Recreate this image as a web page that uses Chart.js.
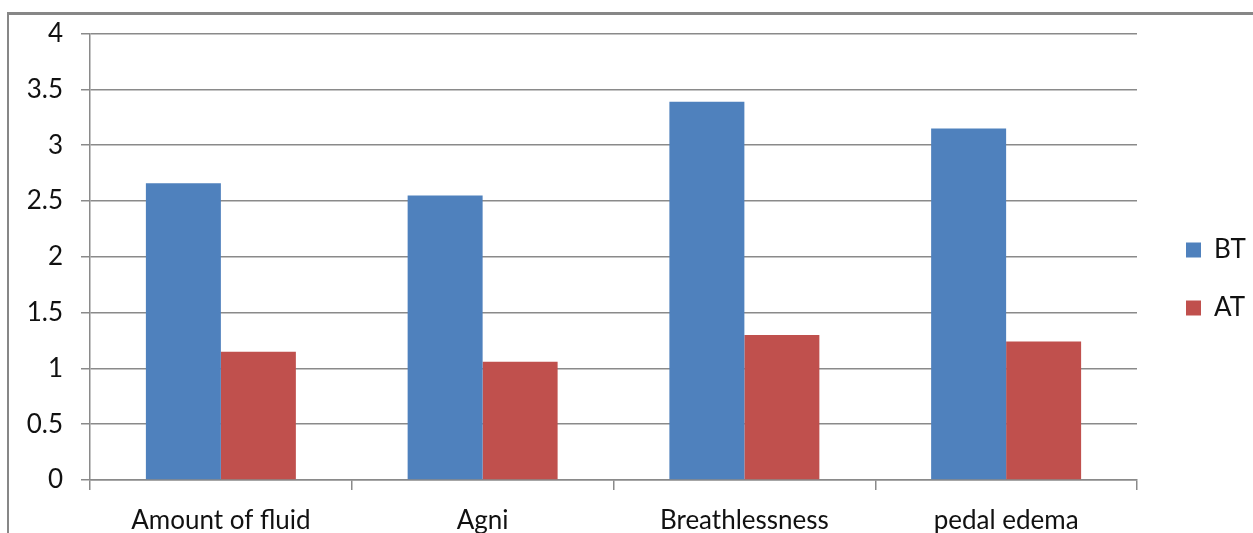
<!DOCTYPE html>
<html lang="en">
<head>
    <meta charset="UTF-8">
    <title>BT vs AT</title>
    <style>
        html, body {
            margin: 0;
            padding: 0;
            background: #fff;
            overflow: hidden;
        }

        .frame {
            position: absolute;
            left: 7px;
            top: 12px;
            width: 1400px;
            height: 700px;
            border-left: 2px solid #878787;
            border-top: 3px solid #878787;
        }

        .chart-container {
            position: absolute;
            left: 0;
            top: 0;
            width: 1253px;
            height: 533px;
        }
    </style>
</head>
<body>
    <div class="frame"></div>
    <div class="chart-container">
        <canvas id="barChart"></canvas>
    </div>

    <script src="https://cdn.jsdelivr.net/npm/chart.js"></script>
    <script>
        // chart data
        const categories = ['Amount of fluid', 'Agni', 'Breathlessness', 'pedal edema'];
        const btValues = [2.66, 2.55, 3.39, 3.15];
        const atValues = [1.15, 1.06, 1.30, 1.24];
        const yTickLabels = ['0', '0.5', '1', '1.5', '2', '2.5', '3', '3.5', '4'];

        const font = { family: 'Lato, "Liberation Sans", sans-serif', size: 26 };
        const gridColor = '#8a8a8a';

        // legend: fixed width on the right, items placed like the original
        const legendPlacer = {
            id: 'legendPlacer',
            beforeInit(chart) {
                const fit = chart.legend.fit;
                chart.legend.fit = function () {
                    fit.call(this);
                    this.width = 116;
                };
            },
            afterLayout(chart) {
                const lg = chart.legend;
                lg.left += 17;
                lg.top = 205;
            }
        };

        const ctx = document.getElementById('barChart').getContext('2d');

        new Chart(ctx, {
            type: 'bar',
            data: {
                labels: categories,
                datasets: [{
                    label: 'BT',
                    data: btValues,
                    backgroundColor: '#4F81BD'
                }, {
                    label: 'AT',
                    data: atValues,
                    backgroundColor: '#C0504D'
                }]
            },
            options: {
                responsive: true,
                maintainAspectRatio: false,
                animation: false,
                layout: {
                    padding: { top: 32, left: 0, right: 0, bottom: 0 }
                },
                datasets: {
                    bar: {
                        categoryPercentage: 0.573,
                        barPercentage: 1
                    }
                },
                scales: {
                    x: {
                        afterFit: (s) => { s.height = 53; },
                        grid: {
                            offset: true,
                            drawOnChartArea: false,
                            tickLength: 10,
                            color: gridColor,
                            lineWidth: 1.5
                        },
                        border: { color: gridColor, width: 1.5 },
                        ticks: {
                            font: font,
                            color: '#111',
                            padding: 15,
                            maxRotation: 0
                        }
                    },
                    y: {
                        min: 0,
                        max: 4,
                        afterFit: (s) => { s.width = 90; },
                        grid: {
                            tickLength: 9,
                            color: gridColor,
                            lineWidth: 1.5
                        },
                        border: { color: gridColor, width: 1.5 },
                        ticks: {
                            stepSize: 0.5,
                            font: font,
                            color: '#111',
                            padding: 18,
                            callback: (v, i) => yTickLabels[i]
                        }
                    }
                },
                plugins: {
                    legend: {
                        position: 'right',
                        align: 'start',
                        labels: {
                            boxWidth: 15,
                            boxHeight: 15,
                            padding: 32,
                            font: font,
                            color: '#111'
                        }
                    },
                    tooltip: { enabled: false }
                }
            },
            plugins: [legendPlacer]
        });
    </script>
</body>
</html>
